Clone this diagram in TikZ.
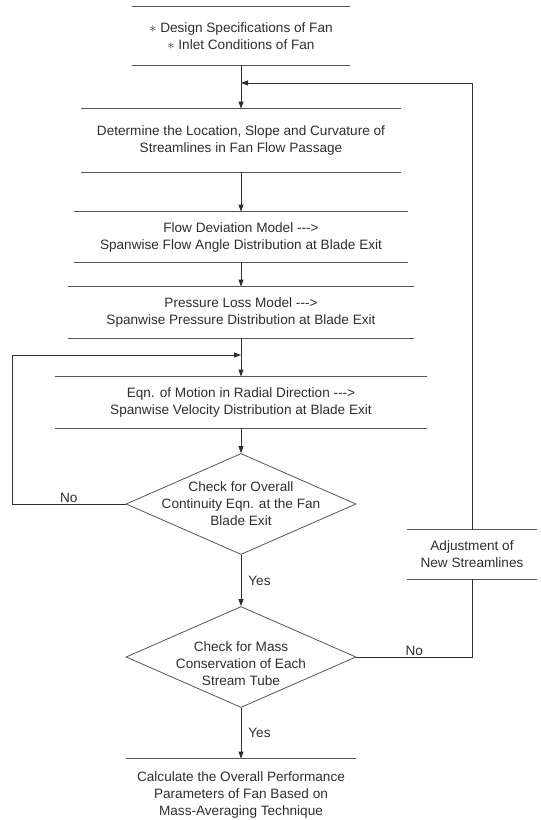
\documentclass[tikz,border=0pt]{standalone}
\usepackage{fontspec}
\setmainfont{Liberation Sans}
\usetikzlibrary{arrows.meta, shapes.geometric}
\definecolor{cink}{HTML}{2E2E2E}
\definecolor{cline}{HTML}{555555}
\tikzset{
  every picture/.style={font=\fontsize{13.6}{17}\selectfont, line width=0.8pt},
  stage/.style={align=center, inner sep=0pt, text=cink},
  check/.style={diamond, draw=cline, minimum width=230pt, minimum height=101pt, inner sep=0pt},
  checktext/.style={align=center, inner sep=0pt, text=cink},
  arrow/.style={-{Triangle[length=7pt, width=5pt]}, draw=cink},
  rule/.style={draw=cline, line width=0.7pt},
  note/.style={text=cink, inner sep=1pt},
}

\begin{document}
\begin{tikzpicture}[x=1pt, y=-1pt]
  \useasboundingbox (0,0) rectangle (541,820);
  % main column
  \node[stage, minimum width=218pt, minimum height=58pt] (spec) at (241,36)
    {$\ast$ Design Specifications of Fan\\$\ast$ Inlet Conditions of Fan};
  \node[stage, minimum width=320pt, minimum height=63pt] (loc) at (241,140.5)
    {Determine the Location, Slope and Curvature of\\Streamlines in Fan Flow Passage};
  \node[stage, minimum width=334pt, minimum height=50pt] (dev) at (241,237)
    {Flow Deviation Model \mbox{-{}-{}->}\\Spanwise Flow Angle Distribution at Blade Exit};
  \node[stage, minimum width=345pt, minimum height=51pt] (loss) at (241,312.5)
    {Pressure Loss Model \mbox{-{}-{}->}\\Spanwise Pressure Distribution at Blade Exit};
  \node[stage, minimum width=371pt, minimum height=51pt] (mot) at (241,402.5)
    {Eqn. of Motion in Radial Direction \mbox{-{}-{}->}\\Spanwise Velocity Distribution at Blade Exit};
  \node[check] (chk1) at (241,504) {};
  \node[checktext] (chk1txt) at (241,504)
    {Check for Overall\\Continuity Eqn. at the Fan\\Blade Exit};
  \node[check] (chk2) at (241,657) {};
  \node[checktext] (chk2txt) at (241,664)
    {Check for Mass\\Conservation of Each\\Stream Tube};
  \node[stage, minimum width=230pt, minimum height=72pt] (calc) at (241,795)
    {Calculate the Overall Performance\\Parameters of Fan Based on\\Mass-Averaging Technique};
  \node[stage, minimum width=129pt, minimum height=49pt] (adj) at (472,554.5)
    {Adjustment of\\New Streamlines};
  % boxes: top and bottom rules only
  \foreach \n in {spec, loc, dev, loss, mot, adj}
    \draw[rule] (\n.north west) -- (\n.north east) (\n.south west) -- (\n.south east);
  \draw[rule] (calc.north west) -- (calc.north east);
  % flow
  \coordinate (join1) at (241,83);
  \coordinate (join2) at (241,355);
  \coordinate (back) at (12,355);
  \draw[arrow] (spec) -- (loc);
  \draw[arrow] (loc) -- (dev);
  \draw[arrow] (dev) -- (loss);
  \draw[arrow] (loss) -- (mot);
  \draw[arrow] (mot) -- (chk1);
  \draw[arrow] (chk1) -- node[note, right, xshift=6pt] {Yes} (chk2);
  \draw[arrow] (chk2) -- node[note, right, xshift=6pt] {Yes} (calc);
  % loops back
  \draw[arrow] (chk1.west) -| node[note, pos=0.25, above] {No} (back) -- (join2);
  \draw[cink] (chk2.east) -| node[note, pos=0.25, above] {No} (adj.south);
  \draw[arrow] (adj.north) |- (join1);
\end{tikzpicture}
\end{document}
